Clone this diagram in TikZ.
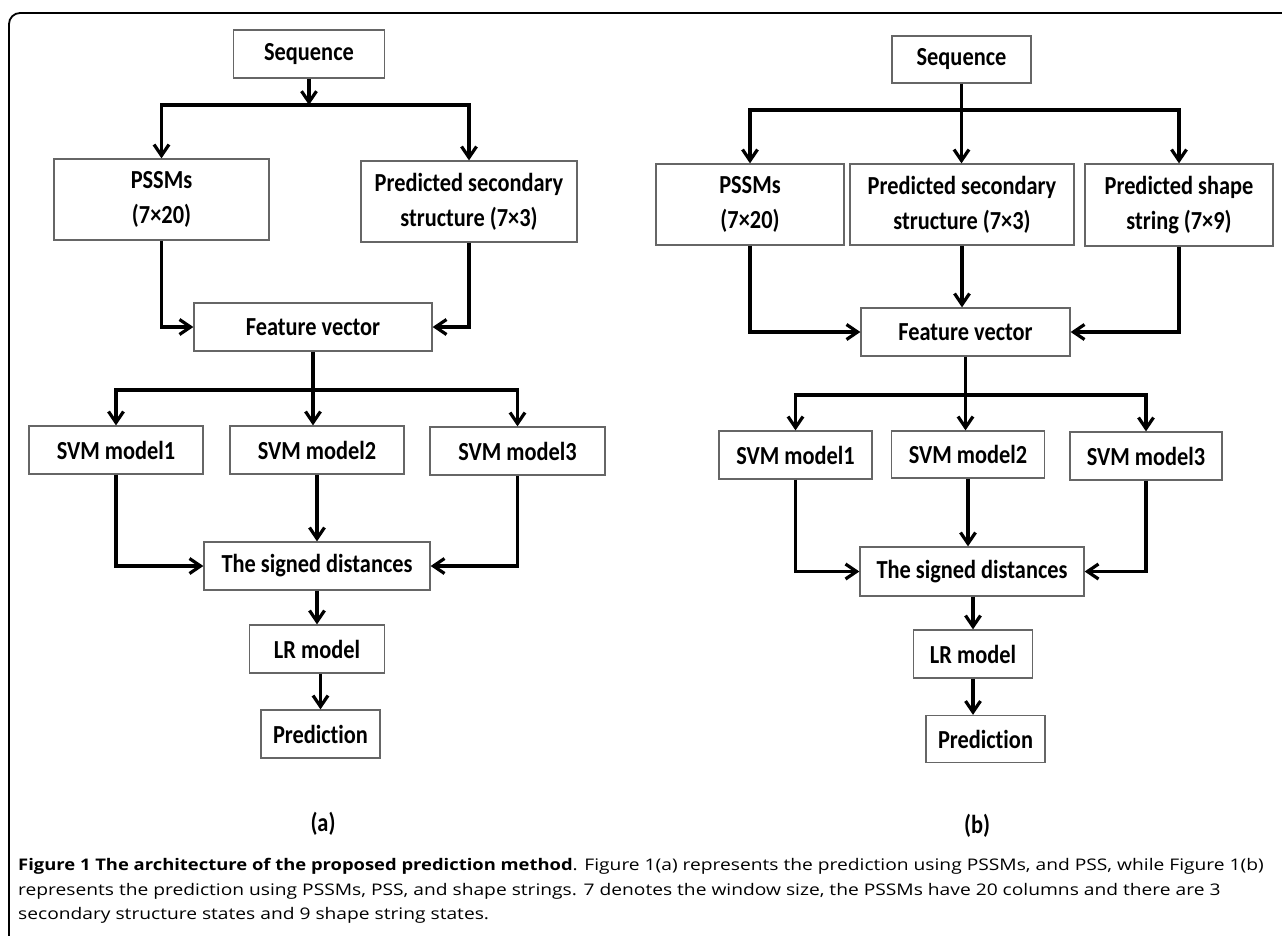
\documentclass[tikz,border=0pt]{standalone}
\usepackage{fontspec}
\usetikzlibrary{arrows.meta,calc}
\newfontfamily\boxfont{Carlito}[FakeStretch=0.86, Ligatures={NoCommon}]
\newfontfamily\capfont{Open Sans}[FakeStretch=1.2, BoldFeatures={FakeStretch=1.15}]
\tikzset{
  box/.style={draw=black!60, line width=1.3pt, fill=white, inner sep=0pt, align=center,
    font=\boxfont\bfseries\fontsize{26}{35}\selectfont},
  conn/.style={line width=3.2pt, -{Straight Barb[length=11pt,width=15pt]}},
  captxt/.style={anchor=base west, inner sep=0pt, font=\capfont\fontsize{16}{24}\selectfont},
  lbl/.style={inner sep=0pt, font=\boxfont\bfseries\fontsize{26}{30}\selectfont}
}
\begin{document}
\begin{tikzpicture}[x=1pt,y=-1pt]
\useasboundingbox (0,0) rectangle (1282,935);
% frame
\draw[line width=1.8pt, rounded corners=11pt] (9,940) -- (9,13) -- (1290,13);

% ---------- (a) ----------
\node[box, minimum width=151pt, minimum height=48pt] (seqA) at (309,54) {Sequence};
\node[box, minimum width=215pt, minimum height=81pt] (pssmA) at (161.5,199.5) {PSSMs\\(7×20)};
\node[box, minimum width=216pt, minimum height=81pt] (pssA) at (469,201.5) {Predicted secondary\\structure (7×3)};
\node[box, minimum width=238pt, minimum height=48pt] (featA) at (313,327) {Feature vector};
\node[box, minimum width=174pt, minimum height=48pt] (svm1A) at (116,450) {SVM model1};
\node[box, minimum width=174pt, minimum height=48pt] (svm2A) at (317,450) {SVM model2};
\node[box, minimum width=175pt, minimum height=48pt] (svm3A) at (517.5,451) {SVM model3};
\node[box, minimum width=226pt, minimum height=48pt] (sigA) at (317,566) {The signed distances};
\node[box, minimum width=135pt, minimum height=48pt] (lrA) at (317,649) {LR model};
\node[box, minimum width=119pt, minimum height=48pt] (predA) at (320.5,734) {Prediction};
\node[lbl] (labA) at (323,824) {(a)};

\coordinate (barA) at (0,105);
\coordinate (barA2) at (0,390);
\draw[conn] (seqA.south) -- (seqA.south |- barA);
\draw[conn] (seqA.south |- barA) -- (pssmA.north |- barA) -- (pssmA.north);
\draw[conn] (seqA.south |- barA) -- (pssA.north |- barA) -- (pssA.north);
\draw[conn] (pssmA.south) -- (pssmA.south |- featA.west) -- (featA.west);
\draw[conn] (pssA.south) -- (pssA.south |- featA.east) -- (featA.east);
\draw[conn] (featA.south) -- (featA.south |- svm2A.north);
\draw[conn] (featA.south |- barA2) -- (svm1A.north |- barA2) -- (svm1A.north);
\draw[conn] (featA.south |- barA2) -- (svm3A.north |- barA2) -- (svm3A.north);
\draw[conn] (svm1A.south) -- (svm1A.south |- sigA.west) -- (sigA.west);
\draw[conn] (svm3A.south) -- (svm3A.south |- sigA.east) -- (sigA.east);
\draw[conn] (svm2A.south) -- (sigA.north);
\draw[conn] (sigA.south) -- (lrA.north);
\draw[conn] (predA.north |- lrA.south) -- (predA.north);

% ---------- (b) ----------
\node[box, minimum width=139pt, minimum height=47pt] (seqB) at (961.5,59.5) {Sequence};
\node[box, minimum width=188pt, minimum height=81pt] (pssmB) at (750,204.5) {PSSMs\\(7×20)};
\node[box, minimum width=224pt, minimum height=81pt] (pssB) at (962,204.5) {Predicted secondary\\structure (7×3)};
\node[box, minimum width=188pt, minimum height=82pt] (shapeB) at (1179,205) {Predicted shape\\string (7×9)};
\node[box, minimum width=209pt, minimum height=48pt] (featB) at (965.5,332) {Feature vector};
\node[box, minimum width=153pt, minimum height=48pt] (svm1B) at (795.5,455) {SVM model1};
\node[box, minimum width=153pt, minimum height=47pt] (svm2B) at (968,454.5) {SVM model2};
\node[box, minimum width=152pt, minimum height=48pt] (svm3B) at (1146,456) {SVM model3};
\node[box, minimum width=224pt, minimum height=49pt] (sigB) at (972,571.5) {The signed distances};
\node[box, minimum width=119pt, minimum height=48pt] (lrB) at (973,654) {LR model};
\node[box, minimum width=119pt, minimum height=47pt] (predB) at (985.5,739) {Prediction};
\node[lbl] (labB) at (977,826) {(b)};

\coordinate (barB) at (0,110);
\coordinate (barB2) at (0,395);
\draw[conn] (seqB.south) -- (seqB.south |- pssB.north);
\draw[conn] (seqB.south |- barB) -- (pssmB.north |- barB) -- (pssmB.north);
\draw[conn] (seqB.south |- barB) -- (shapeB.north |- barB) -- (shapeB.north);
\draw[conn] (pssmB.south) -- (pssmB.south |- featB.west) -- (featB.west);
\draw[conn] (shapeB.south) -- (shapeB.south |- featB.east) -- (featB.east);
\draw[conn] (pssB.south) -- (pssB.south |- featB.north);
\draw[conn] (featB.south) -- (featB.south |- svm2B.north);
\draw[conn] (featB.south |- barB2) -- (svm1B.north |- barB2) -- (svm1B.north);
\draw[conn] (featB.south |- barB2) -- (svm3B.north |- barB2) -- (svm3B.north);
\draw[conn] (svm1B.south) -- (svm1B.south |- sigB.west) -- (sigB.west);
\draw[conn] (svm3B.south) -- (svm3B.south |- sigB.east) -- (sigB.east);
\draw[conn] (svm2B.south) -- (svm2B.south |- sigB.north);
\draw[conn] (lrB.north |- sigB.south) -- (lrB.north);
\draw[conn] (lrB.south) -- (lrB.south |- predB.north);

% ---------- caption ----------
\node[captxt] (cap1) at (18,870) {\textbf{Figure 1 The architecture of the proposed prediction method}. Figure 1(a) represents the prediction using PSSMs, and PSS, while Figure 1(b)};
\node[captxt] (cap2) at (18,895) {represents the prediction using PSSMs, PSS, and shape strings. 7 denotes the window size, the PSSMs have 20 columns and there are 3};
\node[captxt] (cap3) at (18,919) {secondary structure states and 9 shape string states.};
\end{tikzpicture}
\end{document}
